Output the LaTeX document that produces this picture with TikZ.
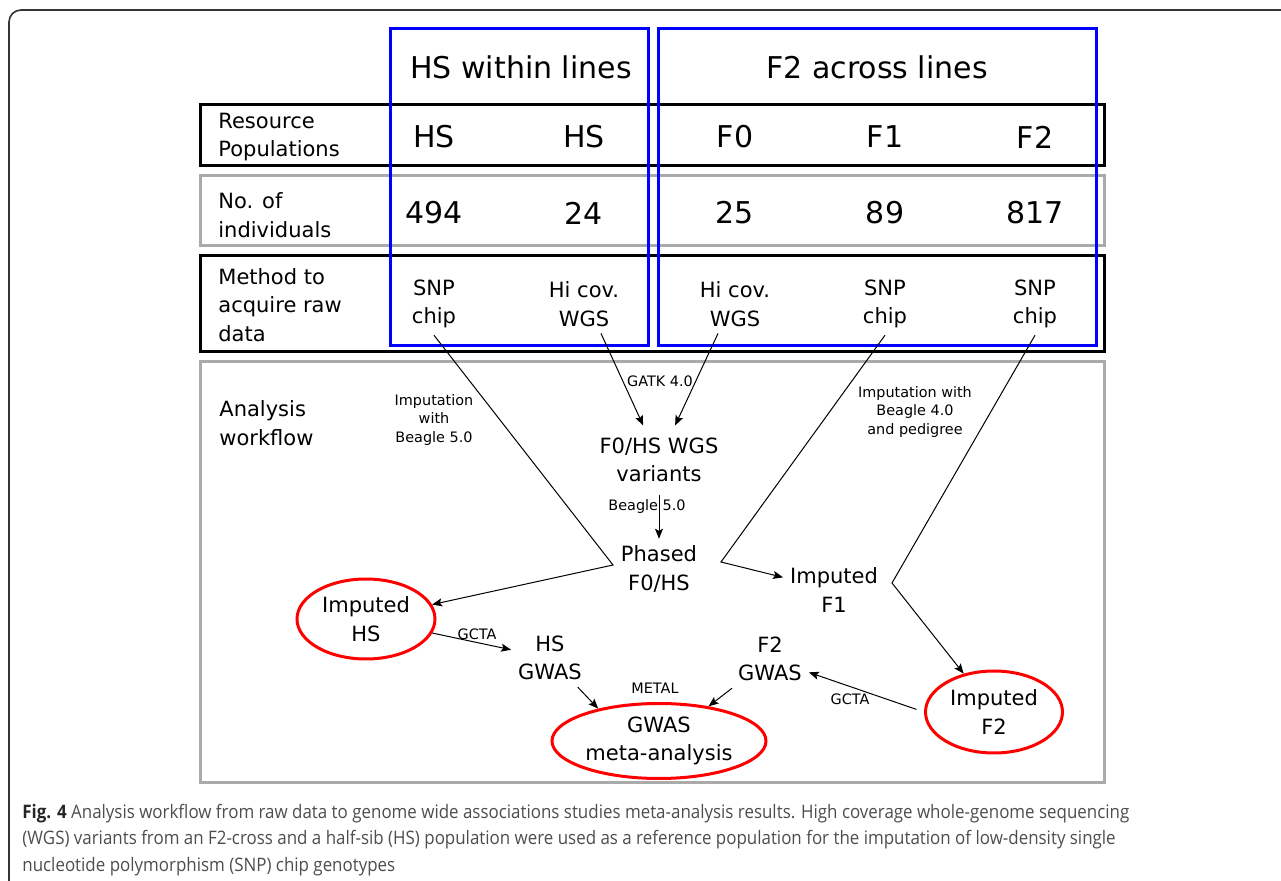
\documentclass[tikz,border=0pt]{standalone}
\usepackage{fontspec}
\setmainfont{DejaVu Sans}
\newfontfamily\capfont[FakeStretch=0.91]{Open Sans}
\usetikzlibrary{arrows.meta,shapes.geometric}
\definecolor{boxgray}{HTML}{AAAAAA}
\definecolor{capgray}{HTML}{4D4D4D}
\tikzset{
  bigtxt/.style={font=\fontsize{15}{18}\selectfont},
  mid/.style={font=\fontsize{10.5}{14.2}\selectfont,align=center},
  rowname/.style={font=\fontsize{10.5}{14.2}\selectfont,align=left,anchor=west,inner sep=0pt},
  toollbl/.style={font=\fontsize{7.2}{9.3}\selectfont,align=center,inner sep=1pt},
  flow/.style={line width=0.5pt,-{Stealth[length=5pt,width=4pt,inset=1pt]}},
  result/.style={draw=red,line width=1.5pt,ellipse,inner sep=0pt,align=center,font=\fontsize{10.5}{14.2}\selectfont},
}
\begin{document}
\begin{tikzpicture}[x=0.5pt,y=-0.5pt]
\useasboundingbox (0,0) rectangle (1281,881);
\begin{scope}
\clip (0,0) rectangle (1281,881);
\draw[line width=0.8pt,black!80,rounded corners=6pt] (9,10) rectangle (1320,920);
\end{scope}

% table rows
\draw[line width=1.5pt] (200,105) rectangle (1104,166);
\draw[line width=1.5pt,boxgray] (200,176) rectangle (1104,246);
\draw[line width=1.5pt] (200,256) rectangle (1104,352);
\draw[line width=1.5pt,boxgray] (200,362) rectangle (1104,783);

\node[rowname] (rescap) at (218,137) {Resource\\Populations};
\node[rowname] (numcap) at (218,215) {No. of\\individuals};
\node[rowname] (methcap) at (218,305) {Method to\\acquire raw\\data};
\node[rowname] (wfcap) at (219,423) {Analysis\\workflow};

\foreach \x/\pop/\num/\meth [count=\i] in {434/HS/494/{SNP\\chip}, 584/HS/24/{Hi cov.\\WGS}, 735/F0/25/{Hi cov.\\WGS}, 885/F1/89/{SNP\\chip}, 1035/F2/817/{SNP\\chip}}
{
  \node[bigtxt] (pop\i) at (\x,137) {\pop};
  \node[bigtxt] (num\i) at (\x,213) {\num};
  \node[mid] (meth\i) at (\x,304) {\meth};
}

% line groups
\draw[blue,line width=1.5pt] (390,29) rectangle (648,346);
\draw[blue,line width=1.5pt] (658,29) rectangle (1096,346);
\node[bigtxt] (hstitle) at (521,67) {HS within lines};
\node[bigtxt] (f2title) at (877,67) {F2 across lines};

% workflow
\node[mid,inner ysep=6pt] (wgsvar) at (659,460) {F0/HS WGS\\variants};
\node[mid] (phased) at (659,569) {Phased\\F0/HS};
\node[mid] (imf1) at (834,590) {Imputed\\F1};
\node[mid] (hsgwas) at (550,658) {HS\\GWAS};
\node[mid] (f2gwas) at (770,659) {F2\\GWAS};
\node[result,minimum width=69pt,minimum height=40pt] (imphs) at (366,619) {Imputed\\HS};
\node[result,minimum width=107pt,minimum height=37.5pt] (meta) at (659,741) {GWAS\\meta-analysis};
\node[result,minimum width=68.5pt,minimum height=41pt] (imf2) at (994,712) {Imputed\\F2};

\node[toollbl] (imp5) at (434,420) {Imputation\\with\\Beagle 5.0};
\node[toollbl] (gatk) at (660,381) {GATK 4.0};
\node[toollbl] (bgl5) at (647,507) {Beagle 5.0};
\node[toollbl] (imp4) at (915,412) {Imputation with\\Beagle 4.0\\and pedigree};
\node[toollbl] (gctahs) at (477,634) {GCTA};
\node[toollbl] (gctaf2) at (850,699) {GCTA};
\node[toollbl] (metal) at (655,688) {METAL};

\coordinate (hsbend) at (613,565);
\coordinate (f1bend) at (721,562);
\coordinate (f2bend) at (892,583);

\draw[flow] (meth1.south) -- (hsbend) -- (imphs);
\draw[flow] (meth2.-60) -- (wgsvar);
\draw[flow] (meth3.-120) -- (wgsvar);
\draw[flow] (wgsvar) -- (phased);
\draw[flow] (meth4.south) -- (f1bend) -- (imf1);
\draw[flow] (meth5.south) -- (f2bend) -- (imf2);
\draw[flow] (imphs) -- (hsgwas);
\draw[flow] (hsgwas) -- (meta.152);
\draw[flow] (f2gwas) -- (meta.35);
\draw[flow,shorten <=4pt] (imf2.west) -- (f2gwas);

\node[anchor=west,align=left,inner sep=0pt,font={\capfont\fontsize{9.3}{13.3}\selectfont},text=capgray] (caption) at (22,840)
  {\textcolor{black!85}{\textbf{Fig. 4}} Analysis workflow from raw data to genome wide associations studies meta-analysis results. High coverage whole-genome sequencing\\
   (WGS) variants from an F2-cross and a half-sib (HS) population were used as a reference population for the imputation of low-density single\\
   nucleotide polymorphism (SNP) chip genotypes};
\end{tikzpicture}
\end{document}
